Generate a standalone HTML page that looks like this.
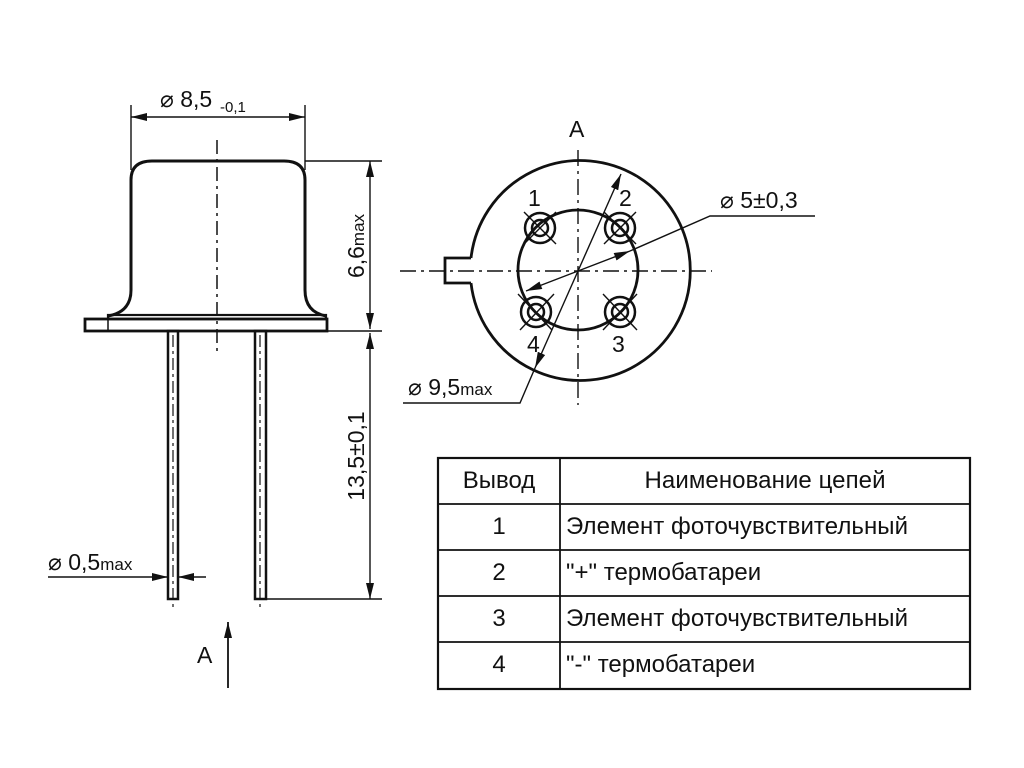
<!DOCTYPE html>
<html><head><meta charset="utf-8"><style>body{margin:0;background:#fff}svg{display:block}text{font-family:"Liberation Sans",sans-serif;fill:#111}</style></head><body>
<svg width="1024" height="768" viewBox="0 0 1024 768">
<defs><marker id="a" viewBox="0 0 16 8" refX="16" refY="4" markerWidth="16" markerHeight="8" markerUnits="userSpaceOnUse" orient="auto-start-reverse"><path d="M0,0L16,4L0,8Z" fill="#111"/></marker></defs>
<g stroke="#111" fill="none">
<path d="M108,316 Q131,312 131,290 L131,180 Q131,161 152,161 L284,161 Q305,161 305,180 L305,290 Q305,312 326,316" stroke-width="3"/>
<rect x="108" y="315" width="218" height="4" stroke-width="2.2"/>
<rect x="85" y="319" width="242" height="12" stroke-width="2.8"/>
<line x1="108" y1="319" x2="108" y2="331" stroke-width="1.5"/>
<line x1="217" y1="140" x2="217" y2="352" stroke-width="1.5" stroke-dasharray="14,5,3,5"/>
<rect x="168" y="331" width="10" height="268" stroke-width="2.5"/>
<rect x="255" y="331" width="11" height="268" stroke-width="2.5"/>
<line x1="173" y1="335" x2="173" y2="610" stroke-width="1.2" stroke-dasharray="12,4,3,4"/>
<line x1="260" y1="335" x2="260" y2="610" stroke-width="1.2" stroke-dasharray="12,4,3,4"/>
<line x1="131" y1="105" x2="131" y2="170" stroke-width="1.4"/>
<line x1="305" y1="105" x2="305" y2="170" stroke-width="1.4"/>
<line x1="131" y1="117" x2="305" y2="117" stroke-width="1.4" marker-start="url(#a)" marker-end="url(#a)"/>
<line x1="305" y1="161" x2="382" y2="161" stroke-width="1.4"/>
<line x1="327" y1="331" x2="382" y2="331" stroke-width="1.4"/>
<line x1="266" y1="599" x2="382" y2="599" stroke-width="1.4"/>
<line x1="370" y1="161" x2="370" y2="329" stroke-width="1.4" marker-start="url(#a)" marker-end="url(#a)"/>
<line x1="370" y1="333" x2="370" y2="599" stroke-width="1.4" marker-start="url(#a)" marker-end="url(#a)"/>
<line x1="48" y1="577" x2="168" y2="577" stroke-width="1.4" marker-end="url(#a)"/>
<line x1="206" y1="577" x2="178" y2="577" stroke-width="1.4" marker-end="url(#a)"/>
<line x1="228" y1="688" x2="228" y2="622" stroke-width="1.8" marker-end="url(#a)"/>
<path d="M471,258 A110,110 0 1 1 471,283" stroke-width="2.8"/>
<path d="M471,258 L445,258 L445,283 L471,283" stroke-width="2.8"/>
<circle cx="578" cy="270" r="60" stroke-width="2.8"/>
<line x1="400" y1="271" x2="712" y2="271" stroke-width="1.4" stroke-dasharray="16,5,3,5"/>
<line x1="578" y1="150" x2="578" y2="405" stroke-width="1.4" stroke-dasharray="16,5,3,5"/>
<g stroke-width="2.5">
<circle cx="540" cy="228" r="15"/><circle cx="540" cy="228" r="8"/>
<circle cx="620" cy="228" r="15"/><circle cx="620" cy="228" r="8"/>
<circle cx="536" cy="312" r="15"/><circle cx="536" cy="312" r="8"/>
<circle cx="620" cy="312" r="15"/><circle cx="620" cy="312" r="8"/>
</g>
<g stroke-width="1.4">
<line x1="524" y1="212" x2="556" y2="244"/><line x1="556" y1="212" x2="524" y2="244"/>
<line x1="604" y1="212" x2="636" y2="244"/><line x1="636" y1="212" x2="604" y2="244"/>
<line x1="518" y1="294" x2="552" y2="330"/><line x1="554" y1="294" x2="520" y2="330"/>
<line x1="603" y1="294" x2="637" y2="330"/><line x1="637" y1="294" x2="603" y2="330"/>
<line x1="578" y1="271" x2="621" y2="174" marker-end="url(#a)"/>
<line x1="578" y1="271" x2="535" y2="368" marker-end="url(#a)"/>
<line x1="578" y1="271" x2="630" y2="251" marker-end="url(#a)"/>
<line x1="578" y1="271" x2="526" y2="291" marker-end="url(#a)"/>
<polyline points="630,251 710,216 815,216"/>
<polyline points="535,368 520,403 403,403"/>
</g>
<rect x="438" y="458" width="532" height="231" stroke-width="2.2"/>
<g stroke-width="1.8">
<line x1="560" y1="458" x2="560" y2="689"/>
<line x1="438" y1="504" x2="970" y2="504"/>
<line x1="438" y1="550" x2="970" y2="550"/>
<line x1="438" y1="596" x2="970" y2="596"/>
<line x1="438" y1="642" x2="970" y2="642"/>
</g>
</g>
<g font-size="23">
<text x="160" y="107">⌀ 8,5</text><text x="220" y="112" font-size="15">-0,1</text>
<text transform="translate(364,246) rotate(-90)" text-anchor="middle">6,6<tspan font-size="17">max</tspan></text>
<text transform="translate(364,456) rotate(-90)" text-anchor="middle">13,5±0,1</text>
<text x="48" y="570">⌀ 0,5<tspan font-size="17">max</tspan></text>
<text x="197" y="663">A</text>
<text x="569" y="137">A</text>
<text x="528" y="206">1</text><text x="619" y="206">2</text>
<text x="612" y="352">3</text><text x="527" y="352">4</text>
<text x="720" y="208">⌀ 5±0,3</text>
<text x="408" y="395">⌀ 9,5<tspan font-size="17">max</tspan></text>
</g>
<g font-size="24">
<text x="499" y="488" text-anchor="middle">Вывод</text>
<text x="765" y="488" text-anchor="middle" textLength="241">Наименование цепей</text>
<text x="499" y="534" text-anchor="middle">1</text><text x="566" y="534" textLength="342">Элемент фоточувствительный</text>
<text x="499" y="580" text-anchor="middle">2</text><text x="566" y="580">"+" термобатареи</text>
<text x="499" y="626" text-anchor="middle">3</text><text x="566" y="626" textLength="342">Элемент фоточувствительный</text>
<text x="499" y="672" text-anchor="middle">4</text><text x="566" y="672">"-" термобатареи</text>
</g>
</svg>
</body></html>
